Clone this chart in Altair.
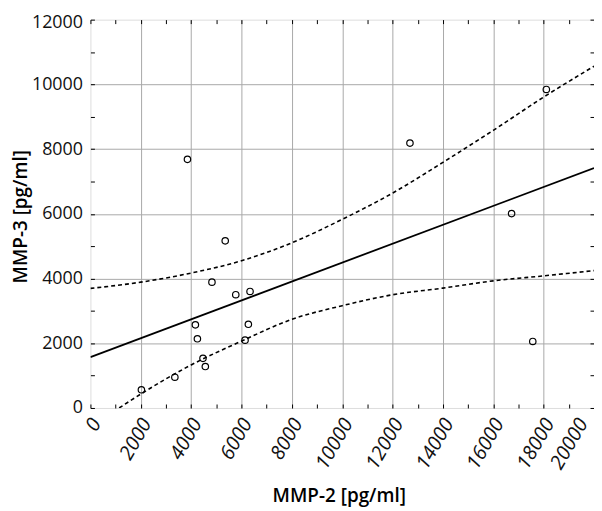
import altair as alt
import pandas as pd

# Scatter data
mmp2 = [2024, 3353, 3853, 4168, 4248, 4470, 4563, 4826, 5353, 5772, 6141, 6272, 6339, 12690, 16726, 17568, 18107]
mmp3 = [562, 951, 7682, 2569, 2139, 1534, 1280, 3888, 5165, 3499, 2096, 2587, 3600, 8185, 6006, 2056, 9842]

# Confidence band curves
upper_x = [0, 2000, 4000, 6000, 8000, 10000, 12000, 14000, 16000, 18000, 20000]
upper_y = [3695, 3888, 4170, 4550, 5105, 5830, 6640, 7590, 8580, 9606, 10560]
lower_x = [1140, 2000, 4000, 6000, 8000, 10000, 12000, 14000, 16000, 18000, 20000]
lower_y = [0, 430, 1330, 2066, 2740, 3161, 3499, 3704, 3928, 4082, 4245]

x_labels = list(range(0, 20001, 2000))
y_labels = list(range(0, 12001, 2000))
x_minor = list(range(0, 20001, 1000))
y_minor = list(range(0, 12001, 1000))
x_grid = list(range(2000, 20000, 2000))
y_grid = list(range(2000, 12000, 2000))

pts = pd.DataFrame({"x": mmp2, "y": mmp3})
up = pd.DataFrame({"x": upper_x, "y": upper_y})
lo = pd.DataFrame({"x": lower_x, "y": lower_y})

FONT = "Open Sans"
xs = alt.Scale(domain=[0, 20000], nice=False, zero=False)
ys = alt.Scale(domain=[0, 12000], nice=False, zero=False)

def tick_axis(orient, values):
    return alt.Axis(orient=orient, values=values, offset=-4, tickSize=4, tickColor="black",
                    tickWidth=1, labels=False, domain=False, grid=False, title=None)

def grid_axis(orient, values):
    return alt.Axis(orient=orient, values=values, grid=True, gridColor="#a8a8a8", gridWidth=1,
                    ticks=False, labels=False, domain=False, title=None)

main_x = alt.Axis(orient="bottom", values=x_labels, format="d", grid=False, ticks=False, domain=False,
                  labelAngle=300, labelAlign="right", labelBaseline="top", labelPadding=7,
                  labelOffset={"condition": {"test": "datum.value == 20000", "value": -20}, "value": -3},
                  labelFont=FONT, labelFontStyle="italic", labelFontSize=20, labelColor="#111",
                  labelFlush=False, labelOverlap=False, labelBound=False,
                  title="MMP-2 [pg/ml]", titleFont=FONT, titleFontSize=19, titleFontWeight=600,
                  titleColor="black", titleX=250, titleY=88, titleAlign="center", titleBaseline="middle")
main_y = alt.Axis(orient="left", values=y_labels, format="d", grid=False, ticks=False, domain=False,
                  labelPadding=8, labelFont=FONT, labelFontSize=18, labelColor="#111",
                  labelOffset={"condition": {"test": "datum.value == 12000", "value": 3}, "value": 0},
                  labelFlush=False, labelOverlap=False, labelBound=False,
                  title="MMP-3 [pg/ml]", titleFont=FONT, titleFontSize=19, titleFontWeight=600,
                  titleColor="black", titleX=-70, titleY=198, titleAngle=270,
                  titleAlign="center", titleBaseline="middle")

points = alt.Chart(pts).mark_point(shape="circle", filled=False, color="black", size=42,
                                   strokeWidth=1.2, opacity=1).encode(
    x=alt.X("x:Q", scale=xs, axis=main_x),
    y=alt.Y("y:Q", scale=ys, axis=main_y),
)

reg = alt.Chart(pts).transform_regression("x", "y", extent=[0, 20000]).mark_line(
    color="black", strokeWidth=1.8, clip=True).encode(
    x=alt.X("x:Q", scale=xs, axis=grid_axis("bottom", x_grid)),
    y=alt.Y("y:Q", scale=ys, axis=grid_axis("left", y_grid)),
)

upper = alt.Chart(up).mark_line(color="black", strokeWidth=1.6, strokeDash=[4, 3],
                                interpolate="monotone", clip=True).encode(
    x=alt.X("x:Q", scale=xs, axis=tick_axis("bottom", x_minor)),
    y=alt.Y("y:Q", scale=ys, axis=tick_axis("left", y_minor)),
)

lower = alt.Chart(lo).mark_line(color="black", strokeWidth=1.6, strokeDash=[4, 3],
                                interpolate="monotone", clip=True).encode(
    x=alt.X("x:Q", scale=xs, axis=tick_axis("top", x_minor)),
    y=alt.Y("y:Q", scale=ys, axis=tick_axis("right", y_minor)),
)

chart = alt.layer(reg, upper, lower, points).resolve_axis(
    x="independent", y="independent"
).properties(
    width=507, height=391,
    autosize=alt.AutoSizeParams(type="none"),
    padding={"left": 83, "top": 10, "right": 0, "bottom": 101},
).configure_view(stroke="black", strokeWidth=1).configure(background="white")

chart.save("out.html", embed_options={"renderer": "svg", "actions": False})
